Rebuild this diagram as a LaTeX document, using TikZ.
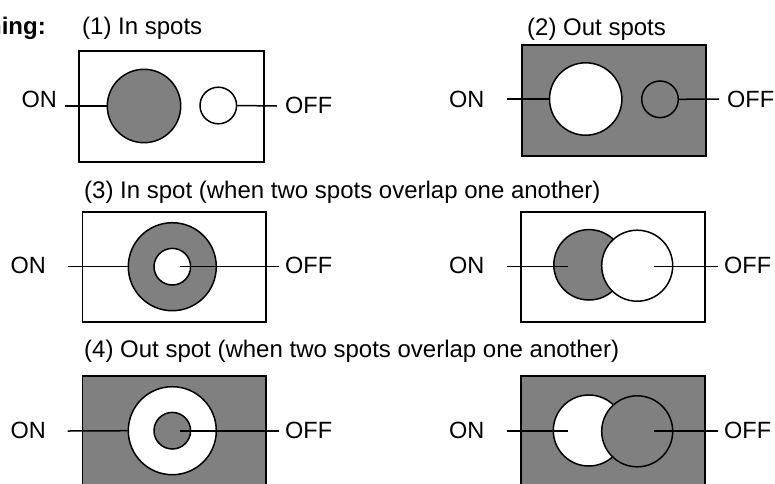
\documentclass[tikz,border=0pt]{standalone}
\usepackage{fontspec}
\setmainfont{Liberation Sans}
\begin{document}
\begin{tikzpicture}[x=1pt,y=-1pt,
  lbl/.style={inner sep=0pt, anchor=base west, font=\fontsize{23.5}{28}\selectfont},
  hdr/.style={inner sep=0pt, anchor=base west, font=\fontsize{24}{29}\selectfont},
  frame/.style={draw, line width=1.8pt, inner sep=0pt},
  spot/.style={circle, draw, line width=1.5pt, inner sep=0pt},
  lead/.style={line width=1.5pt},
  dark/.style={fill=gray}, light/.style={fill=white}]
\useasboundingbox (0,0) rectangle (775,483);

% headers
\node[hdr, anchor=base east, font=\fontsize{24}{29}\selectfont\bfseries] (title) at (46,34) {ning:};
\node[hdr] (h1) at (82,34) {(1) In spots};
\node[hdr] (h2) at (527,35) {(2) Out spots};
\node[hdr] (h3) at (84,198) {(3) In spot (when two spots overlap one another)};
\node[hdr] (h4) at (84,357) {(4) Out spot (when two spots overlap one another)};

% ---------- panel 1 ----------
\node[frame, light, minimum width=185pt, minimum height=110.7pt] (b1) at (171.8,106.35) {};
\node[spot, dark, minimum size=73.4pt] (p1a) at (144,106) {};
\node[spot, light, minimum size=36.6pt] (p1b) at (218.3,105.5) {};
\coordinate (p1on) at (65,106);
\coordinate (p1off) at (277,106);
\draw[lead] (p1on) -- (p1a.west);
\draw[lead] (p1b.east) -- (p1off);
\node[lbl] (on1) at (21.5,107) {ON};
\node[lbl] (off1) at (285,113) {OFF};

% ---------- panel 2 ----------
\node[frame, dark, minimum width=184.3pt, minimum height=110.7pt] (b2) at (613.85,100.35) {};
\node[spot, light, minimum size=72.4pt] (p2a) at (585.7,99) {};
\node[spot, dark, minimum size=36.6pt] (p2b) at (660,99.3) {};
\coordinate (p2on) at (507,99);
\coordinate (p2off) at (719,99);
\draw[lead] (p2on) -- (p2a.west);
\draw[lead] (p2b.east) -- (p2off);
\node[lbl] (on2) at (449,107) {ON};
\node[lbl] (off2) at (727,107) {OFF};

% ---------- panel 3 ----------
\node[frame, light, minimum width=183.5pt, minimum height=109.4pt] (b3) at (174.25,267) {};
\node[spot, dark, minimum size=88pt] (p3a) at (172.3,266.7) {};
\node[spot, light, minimum size=36.6pt] (p3b) at (172.3,266.7) {};
\coordinate (p3on) at (67.7,266.7);
\coordinate (p3s) at (180,266.7);
\coordinate (p3off) at (279.3,266.7);
\draw[lead] (p3on) -- (p3a.west);
\draw[lead] (p3s) -- (p3off);
\node[lbl] (on3) at (10.5,273.3) {ON};
\node[lbl] (off3) at (285,273.3) {OFF};

% ---------- panel 3b ----------
\node[frame, light, minimum width=184.3pt, minimum height=109.4pt] (b3b) at (612.85,267) {};
\node[spot, dark, minimum size=70.4pt] (p3c) at (589,264.8) {};
\node[spot, light, minimum size=71pt] (p3d) at (637.2,265.7) {};
\coordinate (p3bon) at (506.7,266.7);
\coordinate (p3bone) at (568.3,266.7);
\coordinate (p3boffs) at (654,266.7);
\coordinate (p3boff) at (718.3,266.7);
\draw[lead] (p3bon) -- (p3bone);
\draw[lead] (p3boffs) -- (p3boff);
\node[lbl] (on3b) at (449,273.3) {ON};
\node[lbl] (off3b) at (724,273.3) {OFF};

% ---------- panel 4 ----------
\node[frame, dark, minimum width=183.5pt, minimum height=109.4pt] (b4) at (174.25,430.7) {};
\node[spot, light, minimum size=88pt] (p4a) at (172.3,430.7) {};
\node[spot, dark, minimum size=36.6pt] (p4b) at (172.3,430.7) {};
\coordinate (p4on) at (67.7,431);
\coordinate (p4s) at (180,431);
\coordinate (p4off) at (279.3,431);
\draw[lead] (p4on) -- (p4a.west);
\draw[lead] (p4s) -- (p4off);
\node[lbl] (on4) at (10.5,438.3) {ON};
\node[lbl] (off4) at (285,438.3) {OFF};

% ---------- panel 4b ----------
\node[frame, dark, minimum width=184.3pt, minimum height=109.4pt] (b4b) at (612.85,430.7) {};
\node[spot, light, minimum size=71pt] (p4c) at (588.8,430.5) {};
\node[spot, dark, minimum size=71pt] (p4d) at (637.2,431.3) {};
\coordinate (p4bon) at (506.7,431);
\coordinate (p4bone) at (568.3,431);
\coordinate (p4boffs) at (654,431);
\coordinate (p4boff) at (718.3,431);
\draw[lead] (p4bon) -- (p4bone);
\draw[lead] (p4boffs) -- (p4boff);
\node[lbl] (on4b) at (449,438.3) {ON};
\node[lbl] (off4b) at (724,438.3) {OFF};
\end{tikzpicture}
\end{document}
